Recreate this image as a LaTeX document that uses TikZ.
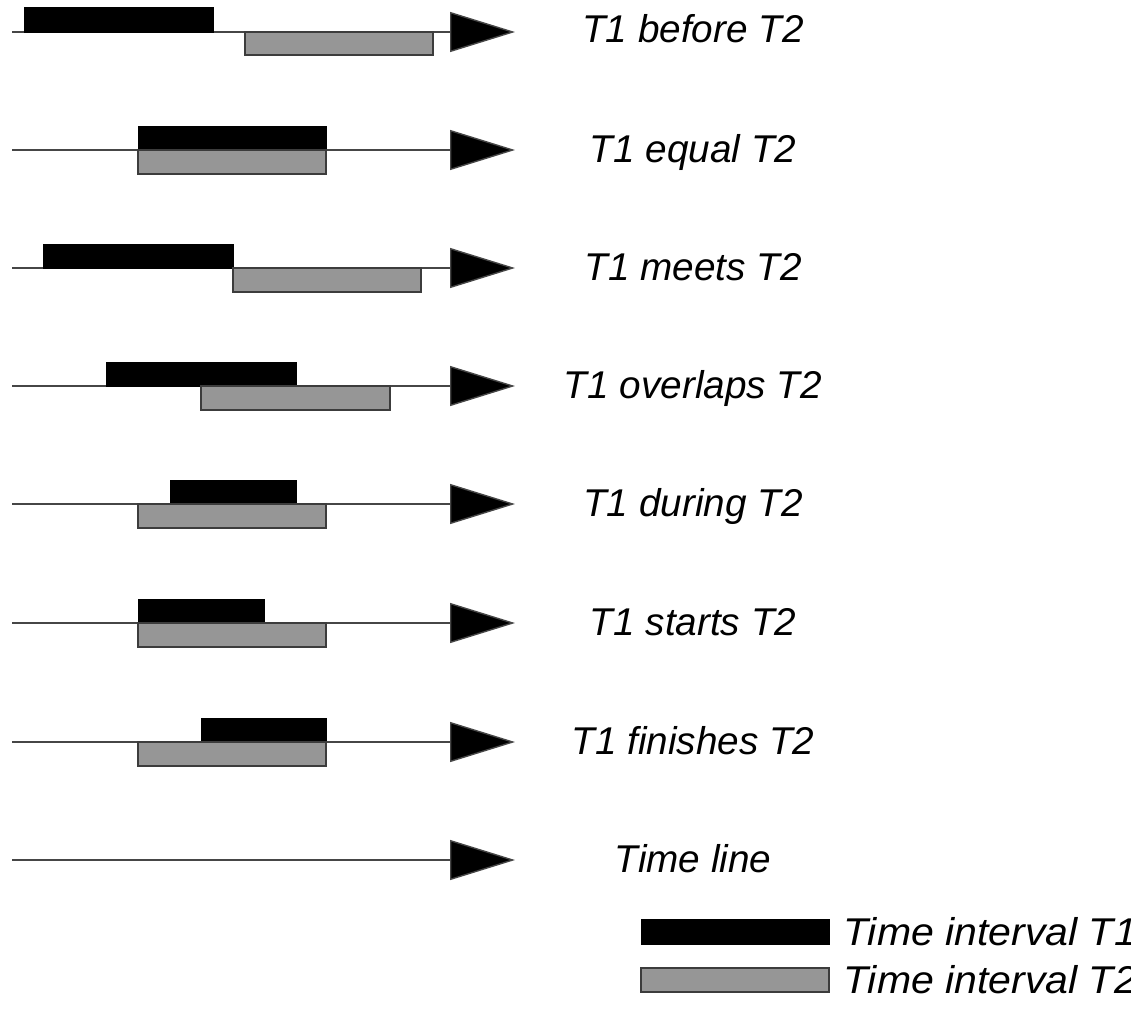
\documentclass[tikz,border=0pt]{standalone}
\usepackage{fontspec}
\newfontfamily\labfont{Liberation Sans}
\newfontfamily\legfont[FakeStretch=1.06]{Liberation Sans}
\usetikzlibrary{arrows.meta}
\definecolor{tgray}{RGB}{150,150,150}
\definecolor{tedge}{RGB}{60,60,60}
\definecolor{tline}{RGB}{70,70,70}
\tikzset{
  timeline/.style={draw=tline, line width=1.4pt, -{Triangle[length=65pt,width=40pt,fill=black]}},
  tone/.style={fill=black, draw=black, line width=0.6pt},
  ttwo/.style={fill=tgray, draw=tedge, line width=1.4pt},
  lab/.style={anchor=base, inner sep=0pt, font=\labfont\itshape\fontsize{38.7}{46}\selectfont},
  leglab/.style={anchor=base west, inner sep=0pt, font=\legfont\itshape\fontsize{38.7}{46}\selectfont}
}
\begin{document}
\begin{tikzpicture}[x=1pt,y=-1pt]
\useasboundingbox (0,0) rectangle (1131,1010);
% row 1: before
\coordinate (s1) at (12,32); \coordinate (e1) at (515,32);
\draw[timeline] (s1) -- (e1);
\draw[tone] (24,7) rectangle (213,32);
\draw[ttwo] (245,32) rectangle (433,55);
\node[lab] (l1) at (693,42) {T1 before T2};
% row 2: equal
\coordinate (s2) at (12,150); \coordinate (e2) at (515,150);
\draw[timeline] (s2) -- (e2);
\draw[tone] (138,126) rectangle (326,150);
\draw[ttwo] (138,150) rectangle (326,174);
\node[lab] (l2) at (693,162) {T1 equal T2};
% row 3: meets
\coordinate (s3) at (12,268); \coordinate (e3) at (515,268);
\draw[timeline] (s3) -- (e3);
\draw[tone] (43,244) rectangle (233,268);
\draw[ttwo] (233,268) rectangle (421,292);
\node[lab] (l3) at (693,280) {T1 meets T2};
% row 4: overlaps
\coordinate (s4) at (12,386); \coordinate (e4) at (515,386);
\draw[timeline] (s4) -- (e4);
\draw[tone] (106,362) rectangle (296,386);
\draw[ttwo] (201,386) rectangle (390,410);
\node[lab] (l4) at (693,398) {T1 overlaps T2};
% row 5: during
\coordinate (s5) at (12,504); \coordinate (e5) at (515,504);
\draw[timeline] (s5) -- (e5);
\draw[tone] (170,480) rectangle (296,504);
\draw[ttwo] (138,504) rectangle (326,528);
\node[lab] (l5) at (693,516) {T1 during T2};
% row 6: starts
\coordinate (s6) at (12,623); \coordinate (e6) at (515,623);
\draw[timeline] (s6) -- (e6);
\draw[tone] (138,599) rectangle (264,623);
\draw[ttwo] (138,623) rectangle (326,647);
\node[lab] (l6) at (693,635) {T1 starts T2};
% row 7: finishes
\coordinate (s7) at (12,742); \coordinate (e7) at (515,742);
\draw[timeline] (s7) -- (e7);
\draw[tone] (201,718) rectangle (326,742);
\draw[ttwo] (138,742) rectangle (326,766);
\node[lab] (l7) at (693,754) {T1 finishes T2};
% row 8: time line
\coordinate (s8) at (12,860); \coordinate (e8) at (515,860);
\draw[timeline] (s8) -- (e8);
\node[lab] (l8) at (693,872) {Time line};
% legend
\draw[tone] (641,919) rectangle (829,944);
\node[leglab] (g1) at (843,945) {Time interval T1};
\draw[ttwo] (641,968) rectangle (829,992);
\node[leglab] (g2) at (843,993) {Time interval T2};
\end{tikzpicture}
\end{document}
